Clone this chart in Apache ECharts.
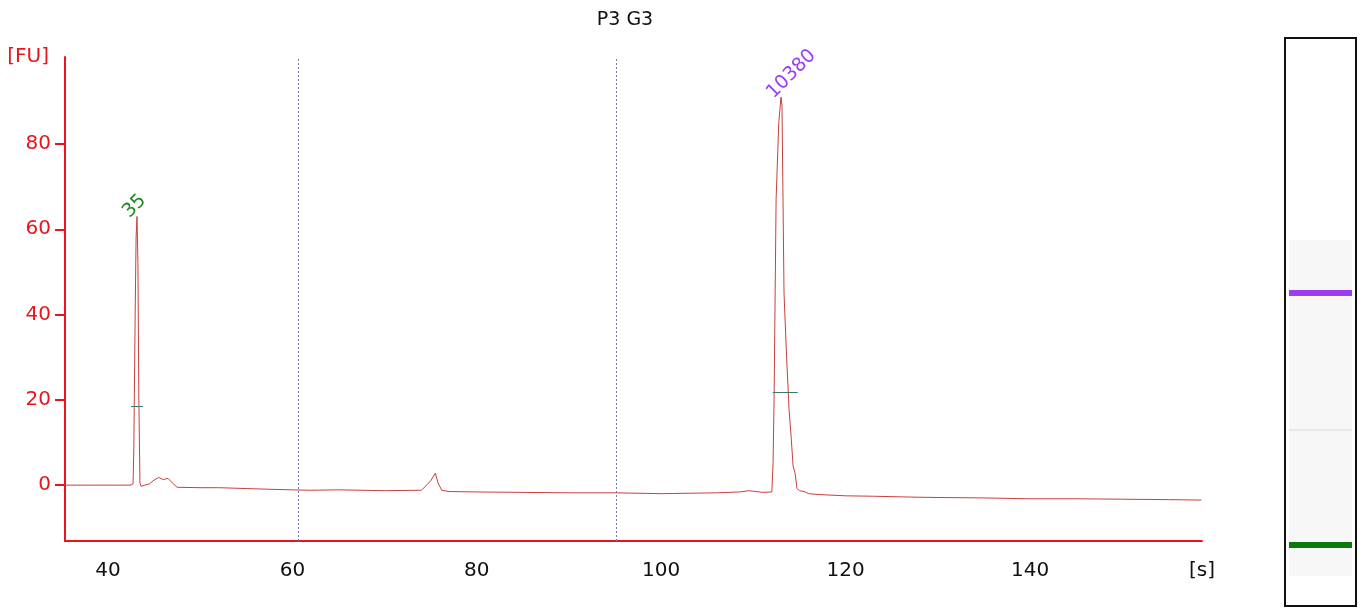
<!DOCTYPE html>
<html lang="en">
<head>
  <meta charset="UTF-8">
  <script src="https://cdn.jsdelivr.net/npm/echarts@6/dist/echarts.min.js"></script>
  <title>P3 G3</title>
  <style>
    body { margin: 0; background: #fff; }
    #chart { width: 1361px; height: 609px; }
  </style>
</head>
<body>
  <div id="chart"></div>
  <script>
    // 时间 [s]
    let times = [35.3, 38, 41, 42.5, 42.72, 42.8, 42.95, 43.05, 43.15, 43.25, 43.35, 43.47, 43.6, 44, 44.5, 45, 45.5, 46, 46.5, 47, 47.5, 50, 52, 55, 58, 60, 62, 65, 70, 74, 75, 75.5, 75.8, 76.2, 77, 80, 85, 90, 95, 100, 103, 106, 108.5, 109.5, 111, 112.0, 112.13, 112.24, 112.46, 112.75, 112.99, 113.1, 113.32, 113.6, 113.86, 114.1, 114.3, 114.5, 114.73, 115, 115.5, 116, 117, 120, 123, 127, 130, 135, 140, 145, 150, 155, 158.6];
    // 荧光 [FU]
    let values = [0, 0, 0, 0, 0.3, 8, 40, 58, 63, 52, 20, 0.5, -0.3, 0, 0.3, 1.2, 1.8, 1.3, 1.6, 0.5, -0.5, -0.6, -0.6, -0.8, -1, -1.1, -1.2, -1.1, -1.3, -1.2, 1, 2.8, 0.5, -1.2, -1.5, -1.6, -1.7, -1.8, -1.8, -2, -1.9, -1.8, -1.6, -1.3, -1.7, -1.6, 5, 20, 67, 85, 91, 89, 45, 30, 18, 11, 4.5, 3, -0.8, -1.3, -1.5, -2, -2.2, -2.5, -2.6, -2.8, -2.9, -3, -3.2, -3.2, -3.3, -3.4, -3.5];
    let xTicks = [40, 60, 80, 100, 120, 140];
    let yTicks = [0, 20, 40, 60, 80];
    // 峰标记
    let peaks = [
      { name: '35', x: 43.15, y: 63, color: '#1a8a1a', half: 18.5, from: 42.5, to: 43.8 },
      { name: '10380', x: 112.99, y: 91, color: '#9b3df0', half: 21.8, from: 112.1, to: 114.8 }
    ];
    let regionLines = [60.61, 95.1];

    let chart = echarts.init(document.getElementById('chart'));
    let red = '#e8161c';
    let font = 'DejaVu Sans';
    chart.setOption({
      animation: false,
      title: {
        text: 'P3 G3', left: 620, top: 6, textAlign: 'center',
        textStyle: { fontFamily: font, fontWeight: 'normal', fontSize: 19, color: '#111' }
      },
      grid: { left: 65, right: 159, top: 57, bottom: 68 },
      xAxis: {
        type: 'value', min: 35.34, max: 158.65, interval: 20,
        name: '[s]', nameLocation: 'end', nameGap: 0,
        nameTextStyle: { fontFamily: font, fontSize: 20, color: '#111', align: 'center', verticalAlign: 'top', padding: [20, 0, 0, 0] },
        axisLine: { onZero: false, lineStyle: { color: red, width: 2 } },
        axisTick: { show: false },
        splitLine: { show: false },
        axisLabel: { fontFamily: font, fontSize: 20, color: '#111', margin: 20, customValues: xTicks }
      },
      yAxis: {
        type: 'value', min: -13.1, max: 100.4,
        name: '[FU]', nameLocation: 'end', nameGap: 0,
        nameTextStyle: { fontFamily: font, fontSize: 20, color: red, align: 'right', verticalAlign: 'middle', padding: [0, 16, 0, 0] },
        axisLine: { show: true, lineStyle: { color: red, width: 2 } },
        axisTick: { show: true, inside: false, length: 10, lineStyle: { color: red, width: 2 }, customValues: yTicks },
        splitLine: { show: false },
        axisLabel: { fontFamily: font, fontSize: 20, color: red, margin: 14, customValues: yTicks }
      },
      series: [{
        type: 'line',
        data: times.map((t, i) => [t, values[i]]),
        symbol: 'none',
        lineStyle: { color: '#c8403c', width: 1 },
        markLine: {
          silent: true, symbol: 'none', label: { show: false },
          lineStyle: { color: '#7a7ab0', type: [2, 2], width: 1 },
          data: regionLines.map(v => ({ xAxis: v }))
            .concat(peaks.map(p => [
              { coord: [p.from, p.half], lineStyle: { color: '#3d7a6a', type: 'solid' } },
              { coord: [p.to, p.half] }
            ]))
        },
        markPoint: {
          symbol: 'circle', symbolSize: 0,
          data: peaks.map(p => ({
            coord: [p.x, p.y],
            label: {
              show: true, formatter: p.name, rotate: 45, color: p.color,
              fontFamily: font, fontSize: 19, position: 'top',
              align: 'left', distance: 2, offset: [-8, 2]
            }
          }))
        }
      }],
      graphic: [
        { type: 'rect', shape: { x: 1285, y: 38, width: 71, height: 568 }, style: { fill: '#fff', stroke: '#111', lineWidth: 2 } },
        { type: 'rect', shape: { x: 1289, y: 240, width: 63, height: 336 }, style: { fill: '#f7f7f7' } },
        { type: 'rect', shape: { x: 1289, y: 429, width: 63, height: 2 }, style: { fill: '#e8e8e8' } },
        { type: 'rect', shape: { x: 1289, y: 290, width: 63, height: 6 }, style: { fill: '#9b3df0' } },
        { type: 'rect', shape: { x: 1289, y: 542, width: 63, height: 6 }, style: { fill: '#0a7a0a' } }
      ]
    });
  </script>
</body>
</html>
